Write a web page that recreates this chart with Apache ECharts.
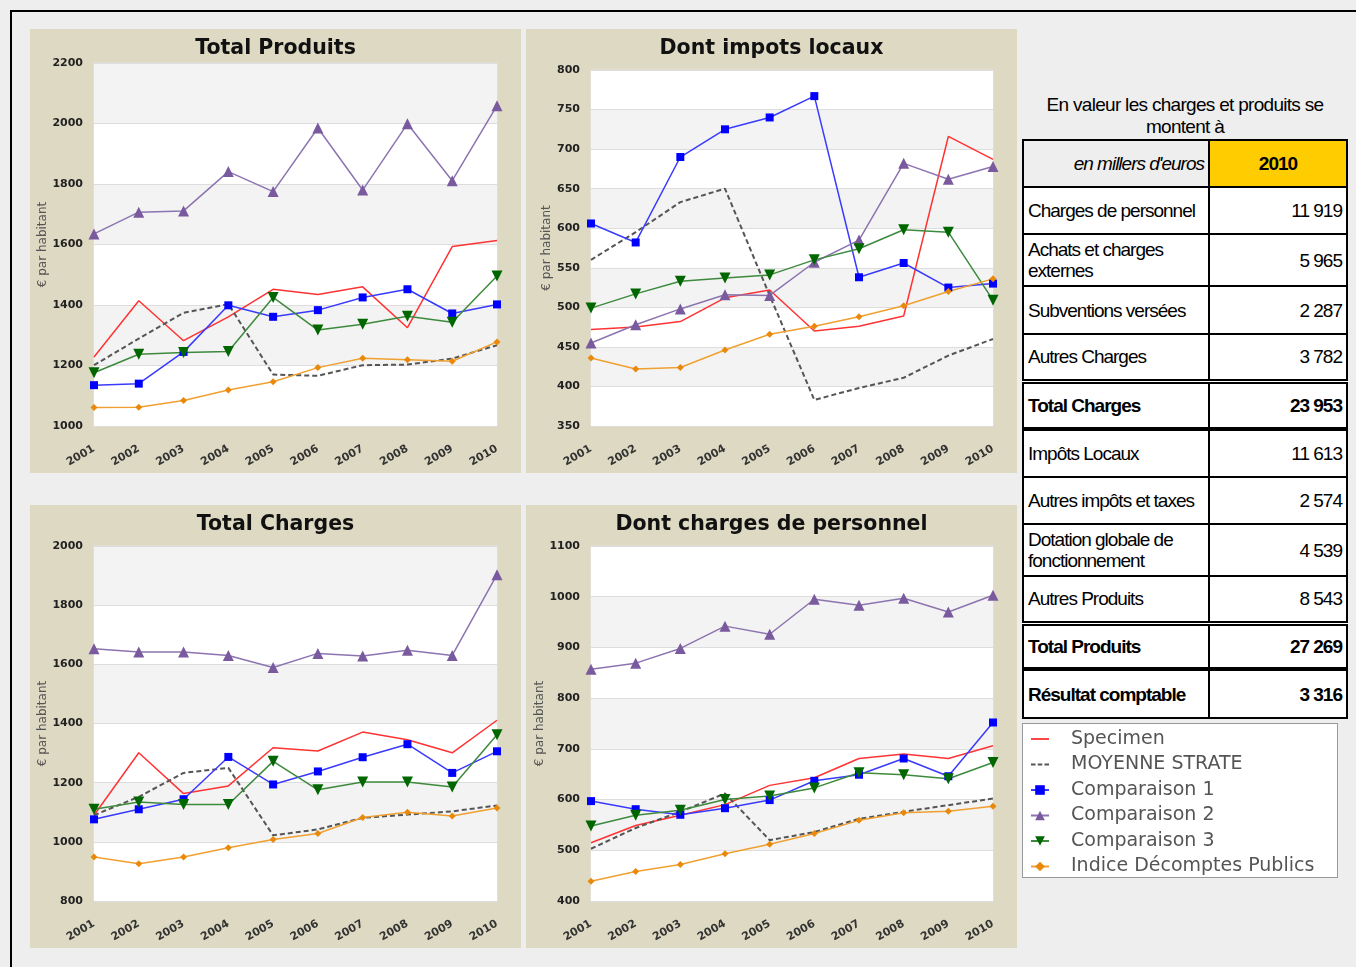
<!DOCTYPE html>
<html>
<head>
<meta charset="utf-8">
<title>Charges et produits</title>
<script src="https://cdn.jsdelivr.net/npm/echarts@6/dist/echarts.min.js"></script>
<style>
    body { margin: 0; background: #eeeeee; width: 1356px; height: 967px; overflow: hidden; position: relative; font-family: 'Liberation Sans', Arial, sans-serif; }
    .frame-top { position: absolute; left: 10px; top: 10px; width: 1346px; height: 2px; background: #000; }
    .frame-left { position: absolute; left: 10px; top: 10px; width: 2px; height: 957px; background: #000; }
    .panel { position: absolute; background: #ddd9c3; width: 491px; height: 444px; }
    #chart { position: absolute; left: 0; top: 0; width: 1356px; height: 967px; z-index: 2; }
    .caption { position: absolute; left: 1020px; top: 94px; width: 330px; text-align: center; font-size: 19px; line-height: 22px; letter-spacing: -0.7px; color: #000; }
    #recap { position: absolute; left: 1022px; top: 139px; width: 326px; border-collapse: collapse; font-size: 19px; letter-spacing: -1px; background: #fff; z-index: 3; }
    #recap td { border: 2px solid #000; padding: 0 4px 0 4px; line-height: 21px; }
    #recap td.lib { width: 176px; }
    #recap td.val { text-align: right; }
    #recap tr.entete td.lib { background: #eeeeee; font-style: italic; text-align: right; }
    #recap tr.entete td.val { background: #ffcc00; font-weight: bold; text-align: center; }
    #recap tr.total td { font-weight: bold; }
    #recap tr.dbl td { border-top: 5px double #000; }
    #recap tr.epais td { border-top: 4px solid #000; }
    .legende { position: absolute; left: 1022px; top: 723px; width: 314px; height: 153px; border: 1px solid #999; background: #fff; z-index: 1; }
</style>
</head>
<body>
<div class="frame-top"></div>
<div class="frame-left"></div>
<div class="panel" style="left:30px;top:29px"></div>
<div class="panel" style="left:526px;top:29px"></div>
<div class="panel" style="left:30px;top:505px;height:443px"></div>
<div class="panel" style="left:526px;top:505px;height:443px"></div>
<div class="legende"></div>
<div class="caption">En valeur les charges et produits se<br>montent à</div>
<table id="recap"></table>
<div id="chart"></div>
<script>
// annees
var years = ['2001', '2002', '2003', '2004', '2005', '2006', '2007', '2008', '2009', '2010'];
var seriesNames = ['Specimen', 'MOYENNE STRATE', 'Comparaison 1', 'Comparaison 2', 'Comparaison 3', 'Indice Décomptes Publics'];
var chartTitles = ['Total Produits', 'Dont impots locaux', 'Total Charges', 'Dont charges de personnel'];

// Total Produits
var produitsSpecimen = [1228, 1414, 1282, 1361, 1452, 1435, 1460, 1325, 1593, 1613];
var produitsMoyenne  = [1201, 1289, 1374, 1403, 1170, 1166, 1201, 1203, 1223, 1267];
var produitsComp1    = [1135, 1140, 1245, 1399, 1361, 1383, 1425, 1452, 1372, 1402];
var produitsComp2    = [1635, 1707, 1711, 1841, 1775, 1985, 1780, 1999, 1811, 2059];
var produitsComp3    = [1176, 1237, 1243, 1246, 1425, 1317, 1336, 1363, 1343, 1496];
var produitsIndice   = [1061, 1062, 1084, 1119, 1146, 1193, 1224, 1219, 1214, 1278];

// Dont impots locaux
var impotsSpecimen = [472, 475, 482, 512, 522, 470, 476, 489, 716, 687];
var impotsMoyenne  = [560, 595, 633, 650, 515, 383, 398, 411, 439, 460];
var impotsComp1    = [606, 582, 690, 725, 740, 767, 538, 556, 525, 530];
var impotsComp2    = [455, 478, 498, 516, 515, 557, 585, 682, 662, 678];
var impotsComp3    = [499, 517, 533, 537, 541, 560, 574, 598, 595, 509];
var impotsIndice   = [436, 422, 424, 446, 466, 476, 488, 502, 520, 536];

// Total Charges
var chargesSpecimen = [1090, 1301, 1163, 1189, 1318, 1307, 1371, 1345, 1301, 1411];
var chargesMoyenne  = [1090, 1152, 1233, 1250, 1022, 1042, 1081, 1092, 1103, 1123];
var chargesComp1    = [1076, 1110, 1144, 1287, 1194, 1238, 1286, 1330, 1233, 1306];
var chargesComp2    = [1653, 1642, 1642, 1630, 1589, 1637, 1628, 1648, 1630, 1903];
var chargesComp3    = [1110, 1135, 1126, 1126, 1272, 1176, 1202, 1202, 1185, 1362];
var chargesIndice   = [949, 926, 949, 980, 1008, 1028, 1082, 1100, 1087, 1114];

// Dont charges de personnel
var personnelSpecimen = [515, 549, 569, 590, 628, 643, 681, 690, 681, 706];
var personnelMoyenne  = [503, 544, 576, 612, 520, 536, 562, 576, 589, 602];
var personnelComp1    = [597, 581, 570, 583, 599, 637, 649, 681, 646, 752];
var personnelComp2    = [857, 869, 898, 942, 926, 995, 983, 997, 970, 1003];
var personnelComp3    = [548, 569, 579, 600, 607, 623, 653, 649, 641, 673];
var personnelIndice   = [439, 458, 472, 493, 512, 533, 559, 574, 577, 587];

// bornes des axes y : [min, max, pas]
var yRanges = [[1000, 2200, 200], [350, 800, 50], [800, 2000, 200], [400, 1100, 100]];

// tableau recapitulatif (milliers d'euros)
var tableLabels = ['Charges de personnel', 'Achats et charges externes', 'Subventions versées', 'Autres Charges',
    'Total Charges', 'Impôts Locaux', 'Autres impôts et taxes', 'Dotation globale de fonctionnement',
    'Autres Produits', 'Total Produits', 'Résultat comptable'];
var tableValues = ['11 919', '5 965', '2 287', '3 782', '23 953', '11 613', '2 574', '4 539', '8 543', '27 269', '3 316'];

var allData = [
    [produitsSpecimen, produitsMoyenne, produitsComp1, produitsComp2, produitsComp3, produitsIndice],
    [impotsSpecimen, impotsMoyenne, impotsComp1, impotsComp2, impotsComp3, impotsIndice],
    [chargesSpecimen, chargesMoyenne, chargesComp1, chargesComp2, chargesComp3, chargesIndice],
    [personnelSpecimen, personnelMoyenne, personnelComp1, personnelComp2, personnelComp3, personnelIndice]
];

/* ---- tableau ---- */
var rowClass = ['', '', '', '', 'total dbl', 'epais', '', '', '', 'total dbl', 'total epais'];
var rowHeight = [47, 52, 48, 47, 48, 48, 47, 52, 47, 46, 49];
var html = "<tr class='entete' style='height:47px'><td class='lib'>en millers d'euros</td><td class='val'>2010</td></tr>";
for (var r = 0; r < tableLabels.length; r++) {
    html += "<tr class='" + rowClass[r] + "' style='height:" + rowHeight[r] + "px'>";
    html += "<td class='lib'>" + tableLabels[r] + "</td><td class='val'>" + tableValues[r] + "</td></tr>";
}
document.getElementById('recap').innerHTML = html;

/* ---- graphiques ---- */
var fontAxe = 'DejaVu Sans';
var grids = [
    {left: 94, top: 63, width: 403, height: 363},
    {left: 591, top: 70, width: 402, height: 356},
    {left: 94, top: 546, width: 403, height: 355},
    {left: 591, top: 546, width: 402, height: 355}
];
var titleX = [275.5, 771.5, 275.5, 771.5];
var titleY = [37, 37, 513, 513];

// style de chaque serie (icone de legende pour les series sans marqueur)
var styles = [
    {symbol: 'none', line: '#ff3333', width: 1.5, type: 'solid', icon: 'path://M0,0 H20 V2 H0 Z'},
    {symbol: 'none', line: '#555555', width: 2, type: [5, 3], icon: 'path://M0,0 H5 V2 H0 Z M7.5,0 H12.5 V2 H7.5 Z M15,0 H20 V2 H15 Z'},
    {symbol: 'rect', size: 8, item: '#0000ff', line: '#3a3aff', width: 1.5, type: 'solid'},
    {symbol: 'triangle', size: 11, item: '#7a5a9e', line: '#8c74b0', width: 1.5, type: 'solid'},
    {symbol: 'triangle', size: 11, rotate: 180, item: '#006600', line: '#3d8a3d', width: 1.5, type: 'solid'},
    {symbol: 'diamond', size: 7, item: '#e8890c', line: '#f0a030', width: 1.5, type: 'solid'}
];

var titles = [], xAxes = [], yAxes = [], series = [];
for (var i = 0; i < 4; i++) {
    grids[i].show = true;
    grids[i].backgroundColor = '#fff';
    grids[i].borderColor = '#e4e4e4';
    grids[i].borderWidth = 1;
    titles.push({
        text: chartTitles[i], left: titleX[i], top: titleY[i] + 1, textAlign: 'center', padding: 0,
        textStyle: {fontFamily: fontAxe, fontSize: 20.5, fontWeight: 'bold', color: '#111'}
    });
    xAxes.push({
        type: 'category', gridIndex: i, data: years, boundaryGap: false,
        axisLine: {show: false}, axisTick: {show: false}, splitLine: {show: false},
        axisLabel: {rotate: 30, interval: 0, margin: 22, fontFamily: fontAxe, fontSize: 11, fontWeight: 'bold', color: '#333'}
    });
    yAxes.push({
        type: 'value', gridIndex: i, min: yRanges[i][0], max: yRanges[i][1], interval: yRanges[i][2],
        name: '€ par habitant', nameLocation: 'middle', nameGap: 36,
        nameTextStyle: {fontFamily: fontAxe, fontSize: 12, color: '#555'},
        axisLine: {show: false}, axisTick: {show: false},
        axisLabel: {margin: 11, fontFamily: fontAxe, fontSize: 11, fontWeight: 'bold', color: '#222',
            formatter: function (v) { return String(v); }},
        splitLine: {lineStyle: {color: '#dddddd'}},
        splitArea: {show: true, areaStyle: {color: ['#ffffff', '#f3f3f3']}}
    });
    for (var j = 0; j < seriesNames.length; j++) {
        var st = styles[j];
        series.push({
            name: seriesNames[j], type: 'line', xAxisIndex: i, yAxisIndex: i,
            data: allData[i][j],
            symbol: st.symbol, symbolSize: st.size || 0, symbolRotate: st.rotate || 0,
            showSymbol: st.symbol !== 'none',
            lineStyle: {color: st.line, width: st.width, type: st.type},
            itemStyle: {color: st.item || st.line},
            clip: false
        });
    }
}

var legendData = [];
for (var k = 0; k < seriesNames.length; k++) {
    var item = {name: seriesNames[k]};
    if (styles[k].icon) { item.icon = styles[k].icon; }
    legendData.push(item);
}

var chart = echarts.init(document.getElementById('chart'));
chart.setOption({
    backgroundColor: 'transparent',
    animation: false,
    title: titles,
    grid: grids,
    xAxis: xAxes,
    yAxis: yAxes,
    legend: {
        orient: 'vertical', left: 1030, top: 729, padding: 0,
        itemWidth: 18, itemHeight: 12, itemGap: 5.5,
        data: legendData,
        textStyle: {fontFamily: fontAxe, fontSize: 19, color: '#555', lineHeight: 20, padding: [0, 0, 0, 17]}
    },
    series: series
});
</script>
</body>
</html>
